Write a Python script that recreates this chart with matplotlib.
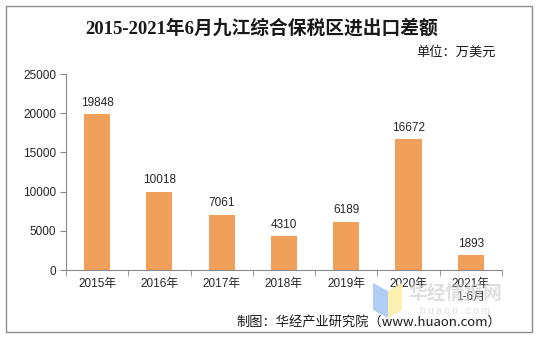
import matplotlib
matplotlib.use("Agg")
import matplotlib.pyplot as plt
from matplotlib.patches import Rectangle, Polygon
import numpy as np

categories = ["2015年", "2016年", "2017年", "2018年", "2019年", "2020年", "2021年\n1-6月"]
values = [19848, 10018, 7061, 4310, 6189, 16672, 1893]
yticks = [0, 5000, 10000, 15000, 20000, 25000]

plt.rcParams['font.family'] = ['Liberation Sans', 'Noto Sans CJK SC']

fig = plt.figure(figsize=(5.39, 3.38), dpi=100)
ax = fig.add_axes([0.1225, 0.201, 0.8085, 0.580])

x = np.arange(len(categories))
bars = ax.bar(x, values, width=0.42, color="#F0A05A", zorder=2)
for xi, v in zip(x, values):
    ax.text(xi, v + 700, str(v), ha="center", va="bottom", fontsize=8.5, color="#262626")

ax.set_xlim(-0.5, len(categories) - 0.5)
ax.set_ylim(0, 25000)
ax.set_yticks(yticks)
ax.set_yticklabels([str(t) for t in yticks], fontsize=8.5, color="#262626")
ax.set_xticks(x)
ax.set_xticklabels(categories, fontsize=8.5, color="#262626", linespacing=1.05)
ax.tick_params(axis="x", length=0, pad=6)
ax.set_xticks(np.arange(-0.5, len(categories), 1.0), minor=True)
ax.tick_params(axis="x", which="minor", length=4, color="#898989", direction="out")
ax.tick_params(axis="y", length=4, color="#898989", direction="out", pad=3)
for s in ["top", "right"]:
    ax.spines[s].set_visible(False)
for s in ["left", "bottom"]:
    ax.spines[s].set_color("#898989")
    ax.spines[s].set_linewidth(0.8)

# outer frame
fig.patches.append(Rectangle((6 / 539, 6 / 338), 526 / 539, 326 / 338, transform=fig.transFigure,
                             fill=False, edgecolor="#8c8c8c", linewidth=1.0))

fig.text(262 / 539, 1 - 28 / 338, "2015-2021年6月九江综合保税区进出口差额",
         ha="center", va="center", fontsize=13.5, fontweight="bold",
         family=['Liberation Serif', 'Noto Sans CJK SC'], color="#1a1a1a")
fig.text(496 / 539, 1 - 52 / 338, "单位：万美元", ha="right", va="center", fontsize=9.5,
         family=['Noto Sans CJK SC'], color="#1a1a1a")

# watermark logo
fig.patches.append(Polygon([(373 / 539, 1 - 283 / 338), (388 / 539, 1 - 291 / 338),
                            (388 / 539, 1 - 318 / 338), (373 / 539, 1 - 310 / 338)],
                           closed=True, transform=fig.transFigure, facecolor="#a9c8f5", alpha=0.9, zorder=5))
fig.patches.append(Polygon([(388 / 539, 1 - 291 / 338), (402 / 539, 1 - 283 / 338),
                            (402 / 539, 1 - 310 / 338), (388 / 539, 1 - 318 / 338)],
                           closed=True, transform=fig.transFigure, facecolor="#fbeeaa", alpha=0.9, zorder=5))
fig.text(455 / 539, 1 - 293 / 338, "华经情报网", ha="center", va="center", fontsize=13.5,
         family=['Noto Sans CJK SC'], color="#c8c8c8", alpha=0.6, fontweight="bold")
fig.text(455 / 539, 1 - 311 / 338, "h u a o n . c o m", ha="center", va="center", fontsize=7,
         color="#d0d0d0", alpha=0.7)

fig.text(501 / 539, 1 - 322 / 338, "制图：华经产业研究院（www.huaon.com）", ha="right", va="center",
         fontsize=9.5, family=['Noto Sans CJK SC', 'Liberation Sans'], color="#1a1a1a")

fig.savefig("out.png", dpi=100)
